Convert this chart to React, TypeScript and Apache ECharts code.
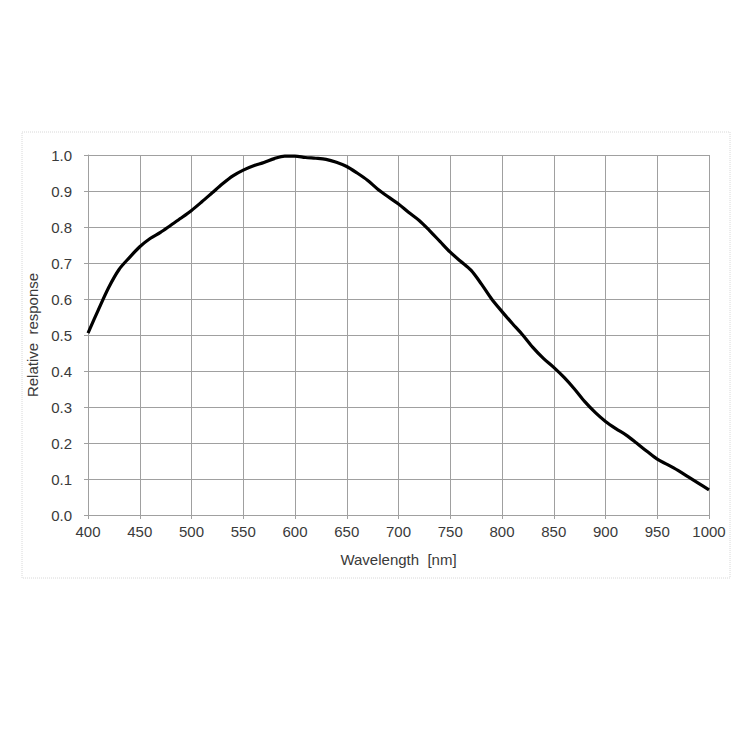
import React, { useEffect, useRef } from "react";
import * as echarts from "echarts";

const wavelengths = [
  400, 410, 420, 430, 440, 450, 460, 470, 480, 490, 500, 510, 520, 530, 540, 550, 560, 570, 580, 590,
  600, 610, 620, 630, 640, 650, 660, 670, 680, 690, 700, 710, 720, 730, 740, 750, 760, 770, 780, 790,
  800, 810, 820, 830, 840, 850, 860, 870, 880, 890, 900, 910, 920, 930, 940, 950, 960, 970, 980, 990, 1000,
];
const response = [
  0.505, 0.57, 0.632, 0.682, 0.715, 0.745, 0.768, 0.785, 0.805, 0.825, 0.846, 0.87, 0.895, 0.92, 0.942, 0.958, 0.97, 0.979, 0.99, 0.997,
  0.997, 0.993, 0.991, 0.988, 0.98, 0.968, 0.95, 0.93, 0.905, 0.884, 0.864, 0.84, 0.818, 0.79, 0.76, 0.73, 0.705, 0.68, 0.642, 0.6,
  0.565, 0.532, 0.5, 0.465, 0.435, 0.41, 0.382, 0.35, 0.315, 0.285, 0.26, 0.24, 0.222, 0.2, 0.177, 0.155, 0.14, 0.124, 0.106, 0.088, 0.07,
];
const xAxisTitle = "Wavelength  [nm]";
const yAxisTitle = "Relative  response";

export default function App() {
  const ref = useRef<HTMLDivElement>(null);
  useEffect(() => {
    if (!ref.current) return;
    const chart = echarts.init(ref.current, null, { renderer: "svg" });
    const font = "'Liberation Sans', Arial, sans-serif";
    const textColor = "#3a3a3a";
    chart.setOption({
      animation: false,
      backgroundColor: "#ffffff",
      graphic: [
        {
          type: "rect",
          shape: { x: 22, y: 132, width: 708, height: 446 },
          style: { fill: "none", stroke: "#d8d8d8", lineWidth: 1, lineDash: [1, 1] },
          silent: true,
          z: -1,
        },
      ],
      grid: { left: 88, right: 41, top: 155, bottom: 235 },
      xAxis: {
        type: "value",
        min: 400,
        max: 1000,
        interval: 50,
        name: xAxisTitle,
        nameLocation: "middle",
        nameGap: 37,
        nameTextStyle: { fontFamily: font, fontSize: 15, color: textColor },
        axisLine: { show: true, lineStyle: { color: "#a0a0a0", width: 1 } },
        axisTick: { show: true, length: 4, lineStyle: { color: "#a0a0a0" } },
        axisLabel: {
          fontFamily: font,
          fontSize: 15,
          color: textColor,
          margin: 9,
          formatter: (v: number) => String(v),
        },
        splitLine: { show: true, lineStyle: { color: "#a0a0a0", width: 1 } },
      },
      yAxis: {
        type: "value",
        min: 0,
        max: 1,
        interval: 0.1,
        name: yAxisTitle,
        nameLocation: "middle",
        nameGap: 41,
        nameTextStyle: { fontFamily: font, fontSize: 15, color: textColor },
        axisLine: { show: true, lineStyle: { color: "#a0a0a0", width: 1 } },
        axisTick: { show: true, length: 4, lineStyle: { color: "#a0a0a0" } },
        axisLabel: {
          fontFamily: font,
          fontSize: 15,
          color: textColor,
          margin: 16,
          formatter: (v: number) => v.toFixed(1),
        },
        splitLine: { show: true, lineStyle: { color: "#a0a0a0", width: 1 } },
      },
      series: [
        {
          type: "line",
          data: wavelengths.map((w, i) => [w, response[i]]),
          showSymbol: false,
          smooth: 0.3,
          lineStyle: { color: "#000000", width: 3.2 },
        },
      ],
    });
    return () => chart.dispose();
  }, []);
  return (
    <div
      ref={ref}
      style={{ position: "fixed", left: 0, top: 0, width: 750, height: 750, background: "#fff" }}
    />
  );
}
